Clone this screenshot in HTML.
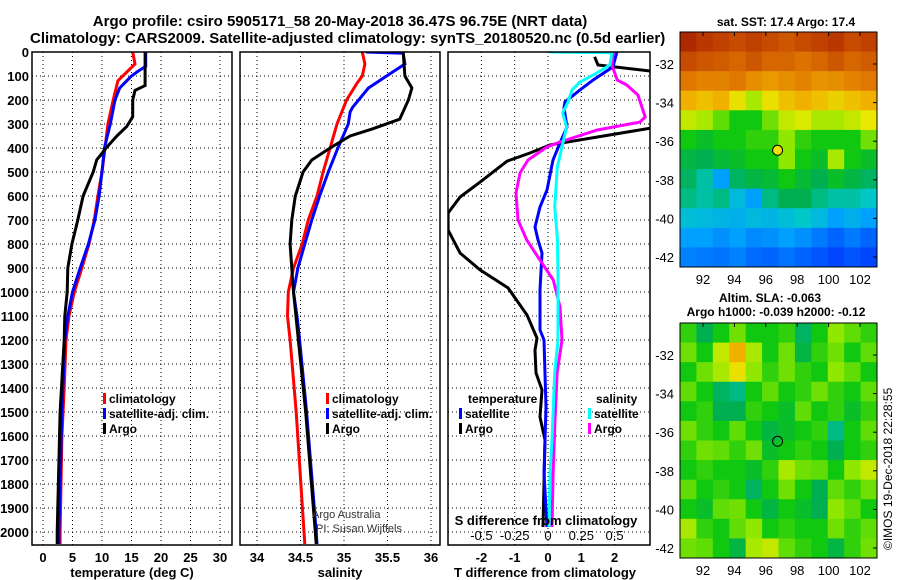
<!DOCTYPE html>
<html><head><meta charset="utf-8">
<style>
body{margin:0;background:#fff;}
svg{display:block;font-family:"Liberation Sans",sans-serif;font-weight:bold;}
</style></head>
<body>
<svg id="chart" width="900" height="580" viewBox="0 0 900 580" xmlns="http://www.w3.org/2000/svg">
<text x="340" y="26" font-size="15" text-anchor="middle">Argo profile: csiro 5905171_58 20-May-2018 36.47S 96.75E (NRT data)</text>
<text x="30" y="43" font-size="15">Climatology: CARS2009. Satellite-adjusted climatology: synTS_20180520.nc (0.5d earlier)</text>
<text x="786" y="26" font-size="12" text-anchor="middle">sat. SST: 17.4 Argo: 17.4</text>
<text x="770" y="302" font-size="12" text-anchor="middle">Altim. SLA: -0.063</text>
<text x="776" y="316" font-size="12" text-anchor="middle">Argo h1000: -0.039 h2000: -0.12</text>
<text transform="translate(892,550) rotate(-90)" font-size="12" font-weight="normal">©IMOS 19-Dec-2018 22:28:55</text>
<g id="layer"></g>
</svg>
<script>
// ---------- data ----------
const depthTicks=[0,100,200,300,400,500,600,700,800,900,1000,1100,1200,1300,1400,1500,1600,1700,1800,1900,2000];
const tempTicks=[0,5,10,15,20,25,30];
const salTicks=[34,34.5,35,35.5,36];
const salTickLabels=["34","34.5","35","35.5","36"];
const tdiffTicks=[-2,-1,0,1,2];
const sdiffTicks=[-0.5,-0.25,0,0.25,0.5];
const sdiffLabels=["-0.5","-0.25","0","0.25","0.5"];

const tClimDepth=[0,50,120,200,300,400,500,600,700,800,900,1000,1100,1200,1400,1600,2000,2050];
const tClimVal=[15.2,15.6,12.7,11.9,11,10.5,10,9.3,8.7,7.8,6.6,5.3,4.4,3.9,3.6,3.2,2.9,2.9];
const tSatDepth=[0,60,80,100,150,200,300,400,500,600,700,800,900,1000,1100,1200,1500,1800,2000,2050];
const tSatVal=[17.4,17.4,16.1,15,13,12.2,11.4,10.4,10,9.5,8.8,7.7,6.3,5,4.2,3.7,3.2,2.9,2.7,2.7];
const tArgoDepth=[0,140,160,200,270,310,350,400,450,500,600,700,800,900,1000,1100,1200,1500,2000,2050];
const tArgoVal=[17.3,17.3,15.6,15.2,15.2,14.2,12.5,10.7,9.1,8.5,6.8,5.9,4.9,4.2,4.1,3.7,3.6,2.9,2.4,2.4];

const sClimDepth=[0,50,100,130,200,300,400,500,600,700,800,900,1000,1100,1200,1500,2000,2050];
const sClimVal=[35.21,35.24,35.21,35.15,35.03,34.92,34.84,34.76,34.69,34.59,34.52,34.42,34.36,34.35,34.38,34.45,34.54,34.55];
const sSatDepth=[0,5,50,100,150,230,250,300,400,500,600,700,800,900,1000,1100,1200,1500,2000,2050];
const sSatVal=[35.25,35.68,35.7,35.49,35.28,35.1,35.07,35.05,34.93,34.82,34.72,34.63,34.55,34.47,34.42,34.46,34.49,34.57,34.68,34.69];
const sArgoDepth=[0,100,150,200,280,320,350,400,450,500,600,700,800,900,960,1000,1500,2000,2050];
const sArgoVal=[35.68,35.7,35.78,35.74,35.64,35.33,35.07,34.84,34.63,34.53,34.44,34.4,34.38,34.4,34.41,34.42,34.56,34.67,34.68];

const dtArgoDepth=[20,54,83,150,312,387,421,455,542,604,671,742,838,908,983,1096,1192,1242,1337,1408,1521,1617,1979];
const dtArgoVal=[1.4,1.5,3.3,4.6,3.3,0.06,-0.54,-1.23,-2.04,-2.64,-3.0,-3.0,-2.64,-2.04,-1.2,-0.63,-0.33,-0.39,-0.36,-0.18,-0.24,-0.09,-0.15];
const dtSatDepth=[0,62,117,158,208,233,312,379,450,575,646,729,783,838,992,1158,1200,1479,1754,1979];
const dtSatVal=[2.07,1.95,1.35,0.96,0.51,0.48,0.57,0.36,0.15,-0.03,-0.24,-0.39,-0.3,-0.18,-0.24,-0.24,-0.12,-0.06,-0.12,-0.03];
const dsSatDepth=[0,3,54,96,125,158,208,254,312,396,479,646,771,921,1200,1337,1617,1754,1979];
const dsSatVal=[0.01,0.48,0.465,0.34,0.24,0.18,0.15,0.11,0.14,0.105,0.07,0.05,0.07,0.075,0.075,0.05,0.03,0.015,0.008];
const dsArgoDepth=[0,54,117,137,179,229,271,292,325,375,396,450,504,588,700,783,867,950,1062,1200,1337,1546,1754,1979];
const dsArgoVal=[0.49,0.48,0.52,0.59,0.675,0.705,0.73,0.69,0.37,0.09,-0.008,-0.15,-0.21,-0.24,-0.225,-0.16,-0.06,0.04,0.09,0.105,0.068,0.052,0.038,0.03];

const mapLonTicks=[92,94,96,98,100,102];
const mapLatTicks=[-32,-34,-36,-38,-40,-42];
const argoLon=96.75, argoLat=-36.47;
const sstGrid=[
[.95,.93,.92,.9,.92,.9,.88,.9,.92,.93,.9,.92],
[.9,.88,.87,.85,.88,.85,.85,.83,.85,.88,.85,.87],
[.82,.8,.8,.82,.78,.76,.78,.8,.77,.78,.8,.82],
[.72,.7,.72,.66,.6,.66,.7,.72,.7,.68,.7,.72],
[.62,.6,.55,.5,.5,.56,.62,.64,.6,.6,.62,.65],
[.5,.48,.5,.5,.52,.52,.58,.52,.5,.5,.5,.56],
[.46,.45,.47,.48,.5,.5,.58,.5,.48,.6,.5,.48],
[.44,.4,.3,.44,.46,.47,.5,.47,.45,.48,.46,.44],
[.42,.4,.42,.35,.3,.42,.45,.45,.42,.4,.4,.38],
[.36,.35,.34,.33,.35,.34,.36,.38,.35,.3,.33,.3],
[.3,.3,.28,.3,.27,.28,.3,.28,.25,.22,.25,.22],
[.26,.25,.24,.26,.23,.22,.24,.22,.2,.18,.2,.18]];
const slaGrid=[
[.52,.45,.5,.56,.5,.5,.52,.44,.5,.58,.55,.52],
[.56,.5,.62,.72,.6,.5,.56,.46,.52,.56,.5,.55],
[.5,.56,.6,.66,.58,.52,.56,.52,.5,.58,.55,.5],
[.55,.5,.44,.42,.5,.55,.5,.52,.56,.52,.5,.55],
[.5,.52,.45,.45,.52,.5,.48,.55,.5,.52,.48,.52],
[.56,.52,.5,.55,.5,.46,.48,.5,.52,.42,.5,.55],
[.52,.56,.55,.52,.56,.48,.5,.52,.5,.45,.5,.52],
[.5,.52,.5,.5,.48,.52,.6,.56,.55,.5,.58,.62],
[.55,.5,.52,.5,.44,.5,.56,.5,.45,.55,.52,.56],
[.5,.48,.55,.56,.5,.46,.5,.48,.45,.58,.55,.5],
[.6,.52,.5,.55,.58,.5,.52,.5,.5,.56,.52,.55],
[.56,.55,.5,.46,.6,.62,.55,.52,.5,.46,.52,.56]];

// ---------- helpers ----------
const NS="http://www.w3.org/2000/svg";
const L=document.getElementById('layer');
function mk(tag,attrs,parent){const e=document.createElementNS(NS,tag);for(const k in attrs)e.setAttribute(k,attrs[k]);(parent||L).appendChild(e);return e;}
const yD=d=>52+0.24*d;
const PB=545;
const panels=[
 {x0:32,x1:232,f:v=>43+5.9*v},
 {x0:240,x1:440,f:v=>257+87*(v-34)},
 {x0:448,x1:650,f:v=>548+33.3*v}
];
const sx=v=>548+33.3*4*v;

const defs=mk('defs',{});
panels.forEach((p,i)=>{const c=mk('clipPath',{id:'clip'+i},defs);mk('rect',{x:p.x0,y:52,width:p.x1-p.x0,height:PB-52},c);});

function gridV(p,vals){vals.forEach(v=>{const g=mk('line',{x1:p.f(v),x2:p.f(v),y1:52,y2:PB,stroke:'#000','stroke-dasharray':'1,3','stroke-width':1});

});}
function gridH(p){depthTicks.forEach(d=>{const g=mk('line',{x1:p.x0,x2:p.x1,y1:yD(d),y2:yD(d),stroke:'#000','stroke-dasharray':'1,3','stroke-width':1});

});}
function line(p,i,ds,vs,col,name,w){
 const pts=ds.map((d,k)=>p.f(vs[k]).toFixed(1)+','+yD(d).toFixed(1)).join(' ');
 const e=mk('polyline',{points:pts,fill:'none',stroke:col,'stroke-width':w||3,'clip-path':'url(#clip'+i+')'});
 
 
}
function txt(x,y,s,opts){const t=mk('text',Object.assign({x:x,y:y,'font-size':13},opts||{}));t.textContent=s;return t;}
function legend(x,y,col,label,name){
 const m=mk('rect',{x:x,y:y-10,width:3,height:11,fill:col});
 
 
 const t=txt(x+6,y,label,{'font-size':12});
 
 
}

// ---- panel 1: temperature
let p=panels[0];
gridV(p,tempTicks);gridH(p);
line(p,0,tClimDepth,tClimVal,'#f00','temp-climatology-line');
line(p,0,tSatDepth,tSatVal,'#00f','temp-satellite-adj-line');
line(p,0,tArgoDepth,tArgoVal,'#000','temp-argo-line');
tempTicks.forEach(v=>{const t=txt(p.f(v),562,String(v),{'text-anchor':'middle'});

});
depthTicks.forEach(d=>{const t=txt(29,yD(d)+5,String(d),{'text-anchor':'end'});

});
let at=txt(132,577,'temperature (deg C)',{'text-anchor':'middle'});


legend(103,403,'#f00','climatology','legend-climatology-1');
legend(103,418,'#00f','satellite-adj. clim.','legend-satellite-1');
legend(103,433,'#000','Argo','legend-argo-1');

// ---- panel 2: salinity
p=panels[1];
gridV(p,salTicks);gridH(p);
line(p,1,sClimDepth,sClimVal,'#f00','sal-climatology-line');
line(p,1,sSatDepth,sSatVal,'#00f','sal-satellite-adj-line');
line(p,1,sArgoDepth,sArgoVal,'#000','sal-argo-line');
salTicks.forEach((v,k)=>{const t=txt(p.f(v),562,salTickLabels[k],{'text-anchor':'middle'});

});
at=txt(340,577,'salinity',{'text-anchor':'middle'});


legend(326,403,'#f00','climatology','legend-climatology-2');
legend(326,418,'#00f','satellite-adj. clim.','legend-satellite-2');
legend(326,433,'#000','Argo','legend-argo-2');
let c1=txt(312,518,'Argo Australia',{'font-size':11,'font-weight':'normal',fill:'#333'});


let c2=txt(316,532,'PI: Susan Wijffels',{'font-size':11,'font-weight':'normal',fill:'#333'});



// ---- panel 3: differences
p=panels[2];
gridV(p,tdiffTicks);gridH(p);
const pS={x0:p.x0,x1:p.x1,f:sx};
line(p,2,dtArgoDepth,dtArgoVal,'#000','tdiff-argo-line');
line(p,2,dtSatDepth,dtSatVal,'#00f','tdiff-satellite-line');
line(pS,2,dsArgoDepth,dsArgoVal,'#f0f','sdiff-argo-line');
line(pS,2,dsSatDepth,dsSatVal,'#0ff','sdiff-satellite-line');
tdiffTicks.forEach(v=>{const t=txt(p.f(v),562,String(v),{'text-anchor':'middle'});

});
sdiffTicks.forEach((v,k)=>{const t=txt(sx(v),540,sdiffLabels[k],{'text-anchor':'middle','font-weight':'normal'});

});
at=txt(546,525,'S difference from climatology',{'text-anchor':'middle'});


at=txt(545,577,'T difference from climatology',{'text-anchor':'middle'});


at=txt(468,403,'temperature',{'font-size':12});


legend(459,418,'#00f','satellite','legend-tdiff-satellite');
legend(459,433,'#000','Argo','legend-tdiff-argo');
at=txt(596,403,'salinity',{'font-size':12});


legend(588,418,'#0ff','satellite','legend-sdiff-satellite');
legend(588,433,'#f0f','Argo','legend-sdiff-argo');

panels.forEach((pp,i)=>{const b=mk('rect',{x:pp.x0,y:52,width:pp.x1-pp.x0,height:PB-52,fill:'none',stroke:'#000','stroke-width':1.5});

});

// ---------- maps ----------
const stops=[[0,[0,0,144]],[0.15,[0,48,255]],[0.3,[0,160,255]],[0.38,[0,200,200]],[0.45,[0,176,80]],[0.5,[16,200,16]],[0.58,[144,232,0]],[0.65,[232,232,0]],[0.72,[240,176,0]],[0.82,[224,120,0]],[0.92,[192,64,0]],[1,[144,0,0]]];
function cmap(v){for(let i=1;i<stops.length;i++){if(v<=stops[i][0]){const a=stops[i-1],b=stops[i],t=(v-a[0])/(b[0]-a[0]);return 'rgb('+a[1].map((c,k)=>Math.round(c+(b[1][k]-c)*t)).join(',')+')';}}return 'rgb(144,0,0)';}
function drawMap(top,grid,name,markerFill){
 const x0=680,x1=877,y1=top+235;
 const lonX=lo=>703+(lo-92)*15.7;
 const latY=la=>top+32+(-32-la)*19.3;
 const rows=grid.length,cols=grid[0].length,cw=(x1-x0)/cols,ch=(y1-top)/rows;
 grid.forEach((row,r)=>row.forEach((v,c)=>{
  const e=mk('rect',{x:(x0+c*cw).toFixed(2),y:(top+r*ch).toFixed(2),width:(cw+0.5).toFixed(2),height:(ch+0.5).toFixed(2),fill:cmap(v)});
  
  
 }));
 const f=mk('rect',{x:x0,y:top,width:x1-x0,height:y1-top,fill:'none',stroke:'#000','stroke-width':1});
 
 
 mapLatTicks.forEach(la=>{const t=txt(674,latY(la)+5,String(la),{'text-anchor':'end','font-weight':'normal'});
  
  
  mk('line',{x1:x1-4,x2:x1,y1:latY(la),y2:latY(la),stroke:'#000'});});
 mapLonTicks.forEach(lo=>{const t=txt(lonX(lo),y1+17,String(lo),{'text-anchor':'middle','font-weight':'normal'});
  
  
  mk('line',{x1:lonX(lo),x2:lonX(lo),y1:top,y2:top+4,stroke:'#000'});});
 const m=mk('circle',{cx:lonX(argoLon),cy:latY(argoLat),r:5,fill:markerFill,stroke:'#000','stroke-width':1});
 
 
}
drawMap(32,sstGrid,'sst-map','#f0e000');
drawMap(323,slaGrid,'sla-map','none');
</script>
</body></html>
